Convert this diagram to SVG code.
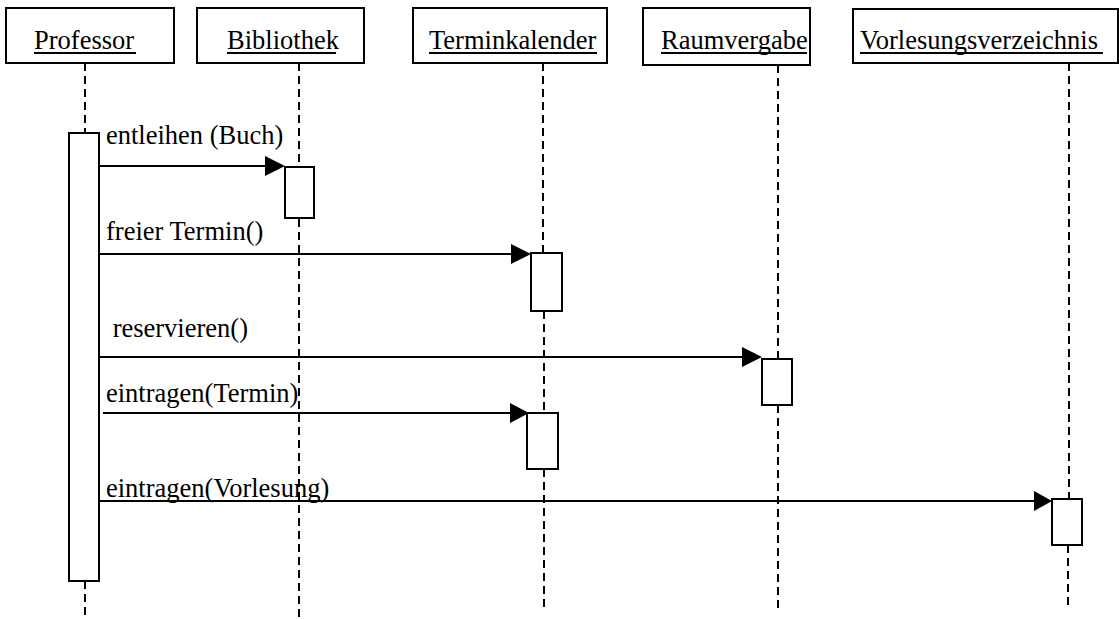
<svg xmlns="http://www.w3.org/2000/svg" width="1119" height="619" viewBox="0 0 1119 619">
  <style>
    .box { fill: #fff; stroke: #000; stroke-width: 2; }
    .life { stroke: #000; stroke-width: 2; stroke-dasharray: 8 5; fill: none; }
    .uline { stroke: #000; stroke-width: 2; }
    .msg { stroke: #000; stroke-width: 2; fill: none; }
    .head { fill: #000; }
    text { font-family: 'Liberation Serif', 'Times New Roman', serif; font-size: 26.5px; fill: #000; }
  </style>
  <rect width="1119" height="619" fill="#fff"/>

  <!-- lifelines -->
  <g id="lifelines">
    <line class="life" x1="85" y1="63" x2="85" y2="133"/>
    <line class="life" x1="85" y1="581" x2="85" y2="619"/>
    <line class="life" x1="299" y1="63" x2="299" y2="167"/>
    <line class="life" x1="299" y1="219" x2="299" y2="618"/>
    <line class="life" x1="543" y1="63" x2="543" y2="253"/>
    <line class="life" x1="544" y1="311" x2="544" y2="413"/>
    <line class="life" x1="544" y1="469" x2="544" y2="610"/>
    <line class="life" x1="778" y1="65" x2="778" y2="359"/>
    <line class="life" x1="778" y1="405" x2="778" y2="608"/>
    <line class="life" x1="1069" y1="63" x2="1069" y2="499"/>
    <line class="life" x1="1068" y1="545" x2="1068" y2="605"/>
  </g>

  <!-- objects -->
  <g id="professor">
    <rect class="box" x="6" y="8" width="168" height="55"/>
    <text x="34" y="49">Professor</text>
    <line class="uline" x1="34" y1="53" x2="136" y2="53"/>
    <rect class="box" x="69" y="133" width="30" height="448"/>
  </g>
  <g id="bibliothek">
    <rect class="box" x="197" y="8" width="167" height="55"/>
    <text x="227" y="49">Bibliothek</text>
    <line class="uline" x1="227" y1="53" x2="336" y2="53"/>
    <rect class="box" x="285" y="167" width="29" height="51"/>
  </g>
  <g id="terminkalender">
    <rect class="box" x="413" y="8" width="194" height="55"/>
    <text x="429" y="49">Terminkalender</text>
    <line class="uline" x1="429" y1="53" x2="597" y2="53"/>
    <rect class="box" x="531" y="253" width="31" height="58"/>
    <rect class="box" x="527" y="413" width="31" height="56"/>
  </g>
  <g id="raumvergabe">
    <rect class="box" x="643" y="8" width="167" height="57"/>
    <text x="661" y="49">Raumvergabe</text>
    <line class="uline" x1="661" y1="53" x2="807" y2="53"/>
    <rect class="box" x="762" y="359" width="30" height="46"/>
  </g>
  <g id="vorlesungsverzeichnis">
    <rect class="box" x="853" y="9" width="265" height="54"/>
    <text x="860" y="49">Vorlesungsverzeichnis</text>
    <line class="uline" x1="860" y1="53" x2="1103" y2="53"/>
    <rect class="box" x="1052" y="499" width="30" height="46"/>
  </g>

  <!-- messages -->
  <g id="messages">
    <line class="msg" x1="99" y1="166" x2="267" y2="166"/>
    <polygon class="head" points="265,156 285,166 265,176"/>
    <text x="106" y="144">entleihen (Buch)</text>

    <line class="msg" x1="99" y1="254" x2="513" y2="254"/>
    <polygon class="head" points="511,244 531,254 511,264"/>
    <text x="106" y="240">freier Termin()</text>

    <line class="msg" x1="99" y1="357" x2="744" y2="357"/>
    <polygon class="head" points="742,347 762,357 742,367"/>
    <text x="106" y="337" xml:space="preserve"> reservieren()</text>

    <line class="msg" x1="103" y1="413" x2="511" y2="413"/>
    <polygon class="head" points="510,403 529,413 510,423"/>
    <text x="106" y="402">eintragen(Termin)</text>

    <line class="msg" x1="99" y1="501" x2="1036" y2="501"/>
    <polygon class="head" points="1034,491 1052,501 1034,511"/>
    <text x="106" y="497">eintragen(Vorlesung)</text>
  </g>
</svg>
